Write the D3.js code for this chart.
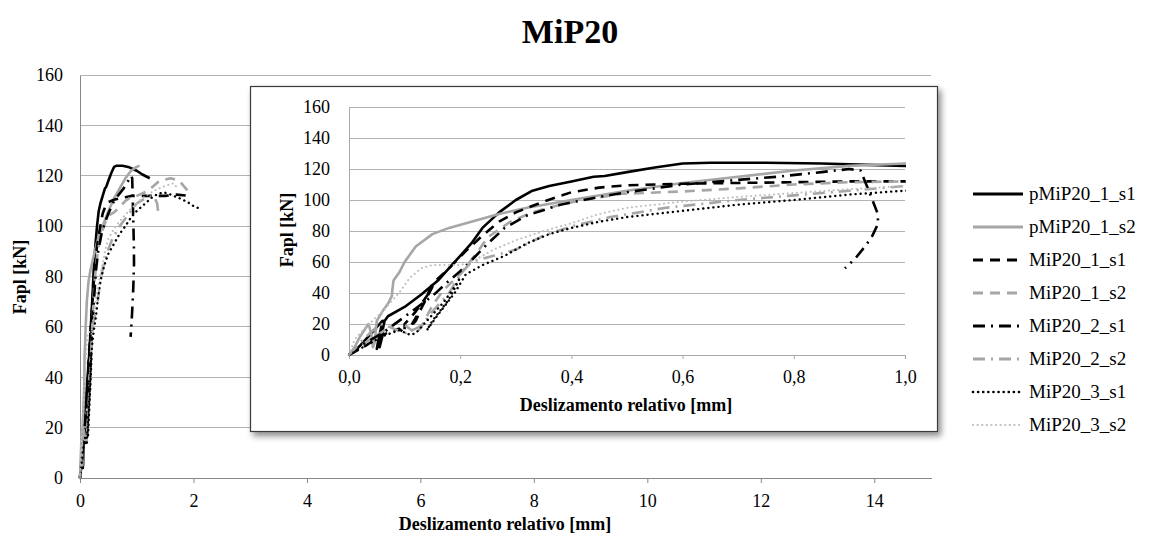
<!DOCTYPE html>
<html><head><meta charset="utf-8">
<script src="https://cdn.jsdelivr.net/npm/d3@7/dist/d3.min.js"></script>
<style>
body{margin:0;background:#fff}
text{font-family:"Liberation Serif","Times New Roman",serif;fill:#000}
</style>
</head><body>
<svg id="c" width="1149" height="541"></svg>
<script>
// ---------- DATA (slip [mm], force [kN]) ----------
const chartTitle = "MiP20";
const xLabel = "Deslizamento relativo [mm]";
const yLabel = "Fapl [kN]";

const seriesNames = ["pMiP20_1_s1","pMiP20_1_s2","MiP20_1_s1","MiP20_1_s2","MiP20_2_s1","MiP20_2_s2","MiP20_3_s1","MiP20_3_s2"];

const pMiP20_1_s1 = [[0,0],[0.02,6],[0.04,14],[0.055,20],[0.06,22],[0.058,14],[0.052,6],[0.05,4],[0.053,10],[0.058,18],[0.062,22],[0.06,12],[0.055,5],[0.058,12],[0.064,22],[0.07,25],[0.1,31],[0.13,39],[0.16,48],[0.18,56],[0.2,64],[0.22,72],[0.24,82],[0.27,92],[0.3,100],[0.33,106],[0.36,109],[0.4,112],[0.44,115],[0.46,115.5],[0.5,118],[0.55,121],[0.6,123.5],[0.65,124],[0.75,124],[0.85,123.5],[0.95,122.5],[1.0,122],[1.1,120.5],[1.23,119]];
const pMiP20_1_s2 = [[0,0],[0.01,5],[0.02,12],[0.035,20],[0.04,14],[0.043,5],[0.046,8],[0.05,22],[0.06,28],[0.07,33],[0.077,38],[0.078,42],[0.08,48],[0.09,53],[0.1,60],[0.12,70],[0.15,78],[0.18,82],[0.22,86],[0.27,91],[0.32,95],[0.4,100],[0.5,106],[0.6,111],[0.7,115],[0.8,119],[0.9,122],[1.0,123.5],[1.05,124]];
const MiP20_1_s1 = [[0,0],[0.03,6],[0.06,13],[0.09,17],[0.1,14],[0.1,20],[0.12,28],[0.14,38],[0.15,44],[0.13,30],[0.11,18],[0.12,22],[0.15,46],[0.18,56],[0.21,67],[0.24,77],[0.27,86],[0.3,92],[0.35,99],[0.4,105],[0.45,108],[0.5,109.5],[0.6,110.5],[0.7,111],[0.8,111.5],[0.9,112],[1.0,112],[1.2,112],[1.5,112],[1.7,112.5],[1.95,112]];
const MiP20_1_s2 = [[0,0],[0.03,8],[0.06,15],[0.09,22],[0.12,14],[0.13,18],[0.15,32],[0.17,42],[0.2,52],[0.23,66],[0.25,76],[0.29,86],[0.33,92],[0.37,96],[0.42,100],[0.49,104],[0.6,105.5],[0.7,107.5],[0.8,110],[0.9,111.5],[1.0,112],[1.2,114],[1.4,118],[1.6,119],[1.75,118],[1.9,114],[2.0,113]];
const MiP20_2_s1 = [[0,0],[0.03,8],[0.06,14],[0.09,22],[0.12,30],[0.15,38],[0.18,48],[0.2,54],[0.22,61],[0.25,72],[0.28,82],[0.32,90],[0.38,97],[0.45,102],[0.5,105],[0.6,110],[0.7,113],[0.77,115],[0.85,118],[0.9,120],[0.92,119],[0.935,106],[0.95,92],[0.952,85],[0.94,76],[0.928,70],[0.91,62],[0.892,56]];
const MiP20_2_s2 = [[0,0],[0.02,8],[0.04,15],[0.06,20],[0.1,14],[0.12,17],[0.13,19],[0.15,28],[0.18,40],[0.2,52],[0.22,60],[0.26,64],[0.3,68],[0.35,77],[0.4,83],[0.47,89],[0.57,95],[0.7,100],[0.8,103],[0.9,106],[1.0,109],[1.15,111],[1.3,112],[1.36,109],[1.38,105]];
const MiP20_3_s1 = [[0,0],[0.03,6],[0.06,12],[0.09,16],[0.11,13],[0.12,14],[0.14,22],[0.17,34],[0.19,44],[0.2,50],[0.18,36],[0.15,22],[0.14,16],[0.16,26],[0.19,40],[0.21,52],[0.24,58],[0.28,64],[0.32,72],[0.36,78],[0.4,82],[0.45,86],[0.5,89],[0.6,93],[0.7,97],[0.8,100],[0.9,103.5],[1.0,106],[1.15,109],[1.3,112],[1.47,113.5],[1.6,112.5],[1.76,111],[1.9,109.5],[2.0,108],[2.15,106.5]];
const MiP20_3_s2 = [[0,0],[0.01,10],[0.03,18],[0.06,28],[0.09,40],[0.11,50],[0.13,56],[0.15,58],[0.2,58],[0.22,60],[0.26,68],[0.3,74],[0.35,80],[0.4,85],[0.45,91],[0.5,95],[0.6,99],[0.7,102],[0.8,104.5],[0.9,107],[1.0,109],[1.15,112],[1.3,114],[1.5,116],[1.65,117],[1.72,115]];

const seriesValues = [pMiP20_1_s1,pMiP20_1_s2,MiP20_1_s1,MiP20_1_s2,MiP20_2_s1,MiP20_2_s2,MiP20_3_s1,MiP20_3_s2];

const xTicksMain = [0,2,4,6,8,10,12,14];
const yTicks = [0,20,40,60,80,100,120,140,160];
const xTicksInset = [0,0.2,0.4,0.6,0.8,1.0];

// ---------- STYLES ----------
const FONT = '"Liberation Serif","Times New Roman",serif';
const BLACK="#000", GRAY="#a6a6a6", LGRAY="#bdbdbd";
const styles = [
  {c:BLACK, w:2.6, d:null, cap:"butt"},
  {c:GRAY,  w:2.6, d:null, cap:"butt"},
  {c:BLACK, w:2.6, d:"10,7", cap:"butt"},
  {c:GRAY,  w:2.6, d:"10,7", cap:"butt"},
  {c:BLACK, w:2.6, d:"12,6,2,6", cap:"butt"},
  {c:GRAY,  w:2.6, d:"12,6,2,6", cap:"butt"},
  {c:BLACK, w:2.4, d:"0.1,5", cap:"round"},
  {c:LGRAY, w:2.0, d:"0.1,4.5", cap:"round"}
];

const svg = d3.select("#c");
const defs = svg.append("defs");
const f = defs.append("filter").attr("id","sh").attr("x","-5%").attr("y","-5%").attr("width","115%").attr("height","120%");
f.append("feDropShadow").attr("dx",3).attr("dy",4).attr("stdDeviation",3).attr("flood-color","#000").attr("flood-opacity",0.45);

const fmtComma = d => d3.format(".1f")(d).replace(".",",");

function drawPanel(g, x, y, xt, xfmt, opts){
  const [x0,x1] = x.range(), [y0,y1] = y.range();
  g.append("g").selectAll("line").data(yTicks.filter(v=>v>0)).join("line")
    .attr("x1",x0).attr("x2",x1).attr("y1",d=>y(d)).attr("y2",d=>y(d))
    .attr("stroke","#b3b3b3").attr("stroke-width",1).attr("shape-rendering","crispEdges");
  const ya = g.append("g").attr("transform",`translate(${x0},0)`)
    .call(d3.axisLeft(y).tickValues(yTicks).tickSize(0).tickPadding(opts.yPad));
  ya.attr("font-family",null).attr("font-size",null);
  ya.select(".domain").attr("stroke",opts.axisColor).attr("shape-rendering","crispEdges");
  ya.selectAll("text").attr("font-size",18);
  const xa = g.append("g").attr("transform",`translate(0,${y0})`)
    .call(d3.axisBottom(x).tickValues(xt).tickFormat(xfmt).tickSize(opts.tick).tickSizeOuter(0).tickPadding(opts.xPad));
  xa.attr("font-family",null).attr("font-size",null);
  xa.select(".domain").attr("stroke",opts.axisColor).attr("shape-rendering","crispEdges");
  xa.selectAll(".tick line").attr("stroke",opts.axisColor);
  xa.selectAll("text").attr("font-size",18);
}

function drawSeries(g, x, y, clipId){
  const line = d3.line().x(d=>x(d[0])).y(d=>y(d[1]));
  const sg = g.append("g");
  if(clipId) sg.attr("clip-path",`url(#${clipId})`);
  seriesValues.forEach((s,i)=>{
    const st = styles[i];
    sg.append("path").datum(s).attr("d",line).attr("fill","none")
      .attr("stroke",st.c).attr("stroke-width",st.w)
      .attr("stroke-dasharray",st.d).attr("stroke-linecap",st.cap).attr("stroke-linejoin","round");
  });
}

// ---------- MAIN CHART ----------
const xMain = d3.scaleLinear().domain([0,15]).range([80,931]);
const yMain = d3.scaleLinear().domain([0,160]).range([478,75]);
const gMain = svg.append("g");
drawPanel(gMain, xMain, yMain, xTicksMain, d3.format("d"), {yPad:17, xPad:11, tick:5, axisColor:"#888"});
drawSeries(gMain, xMain, yMain, null);

svg.append("text").attr("x",570).attr("y",43).attr("text-anchor","middle")
  .attr("font-size",34).attr("font-weight","bold").text(chartTitle);
svg.append("text").attr("x",505).attr("y",530).attr("text-anchor","middle")
  .attr("font-size",18).attr("font-weight","bold").text(xLabel);
svg.append("text").attr("transform","translate(26,277) rotate(-90)").attr("text-anchor","middle")
  .attr("font-size",18).attr("font-weight","bold").text(yLabel);

// ---------- INSET ----------
svg.append("rect").attr("x",250.5).attr("y",86.5).attr("width",687).attr("height",345)
  .attr("fill","#fff").attr("stroke","#3a3a3a").attr("stroke-width",1.2).attr("filter","url(#sh)");
const xIn = d3.scaleLinear().domain([0,1]).range([349,905]);
const yIn = d3.scaleLinear().domain([0,160]).range([355,107]);
defs.append("clipPath").attr("id","clipIn").append("rect")
  .attr("x",346).attr("y",100).attr("width",560).attr("height",262);
const gIn = svg.append("g");
drawPanel(gIn, xIn, yIn, xTicksInset, fmtComma, {yPad:19, xPad:11, tick:4, axisColor:"#aaa"});
drawSeries(gIn, xIn, yIn, "clipIn");
svg.append("text").attr("x",626).attr("y",411).attr("text-anchor","middle")
  .attr("font-size",18).attr("font-weight","bold").text(xLabel);
svg.append("text").attr("transform","translate(293,230) rotate(-90)").attr("text-anchor","middle")
  .attr("font-size",18).attr("font-weight","bold").text(yLabel);

// ---------- LEGEND ----------
const lg = svg.append("g");
seriesNames.forEach((n,i)=>{
  const yy = 194 + i*33, st = styles[i];
  lg.append("line").attr("x1",973).attr("x2",1023).attr("y1",yy).attr("y2",yy)
    .attr("stroke",st.c).attr("stroke-width",st.w+0.2).attr("stroke-dasharray",st.d).attr("stroke-linecap",st.cap);
  lg.append("text").attr("x",1029).attr("y",yy+6).attr("font-size",19).text(n);
});

svg.selectAll("text").style("font-family", FONT).style("fill","#000");
</script>
</body></html>
